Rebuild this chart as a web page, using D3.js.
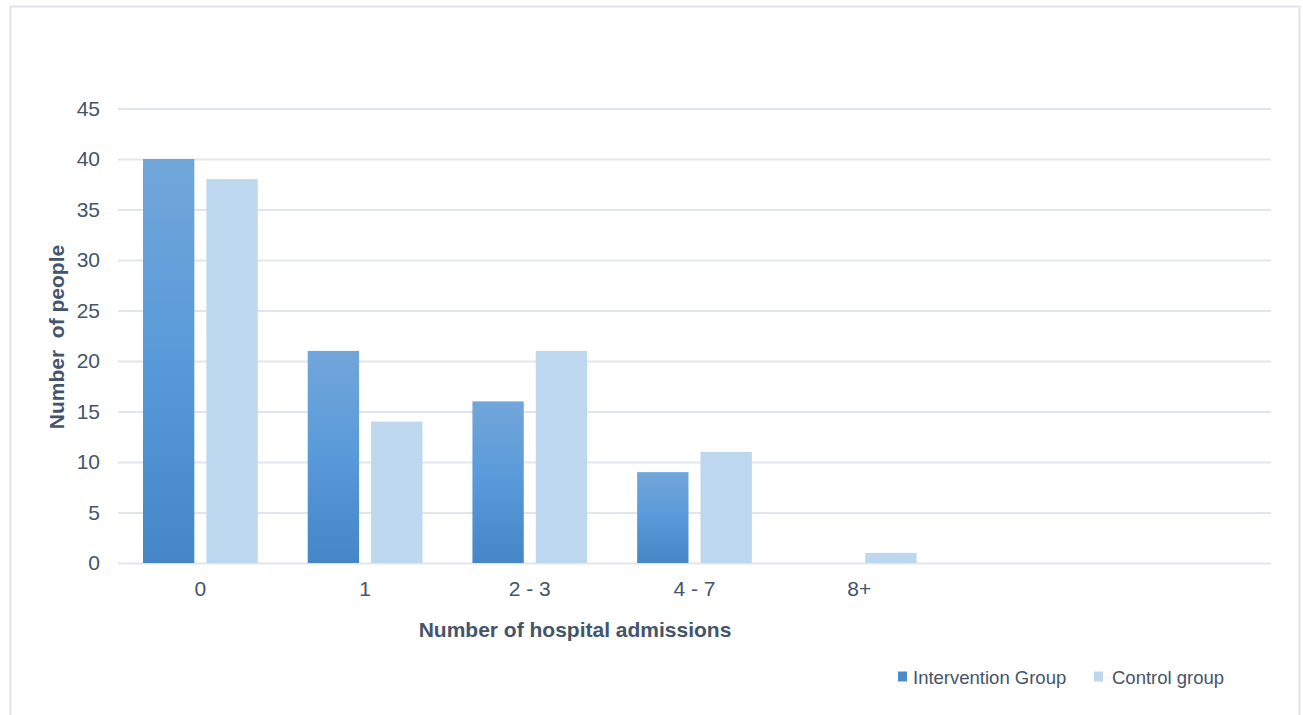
<!DOCTYPE html>
<html><head><meta charset="utf-8">
<script src="https://cdn.jsdelivr.net/npm/d3@7"></script>
<style>body{margin:0;background:#fff;font-family:"Liberation Sans",Arial,sans-serif;}</style>
</head><body>
<svg id="c" width="1303" height="715"></svg>
<script>
const categories = ["0", "1", "2 - 3", "4 - 7", "8+", "", " "];
const interventionValues = [40, 21, 16, 9, null, null, null];
const controlValues = [38, 14, 21, 11, 1, null, null];
const seriesNames = ["Intervention Group", "Control group"];
const yTicks = [0, 5, 10, 15, 20, 25, 30, 35, 40, 45];

const svg = d3.select("#c");
const textColor = "#44546a";
const gridColor = "#e1e5ec";
const fontFam = "Liberation Sans, Arial, sans-serif";

// outer border
svg.append("rect").attr("x", 10.5).attr("y", 6.5).attr("width", 1289).attr("height", 720)
  .attr("fill", "#fff").attr("stroke", "#e0e4ea").attr("stroke-width", 2);

const x = d3.scaleBand().domain(categories).range([118, 1271]).paddingInner(0).paddingOuter(0);
const y = d3.scaleLinear().domain([0, 45]).range([563, 108.5]);
const sub = d3.scaleBand().domain([0, 1]).range([25, x.bandwidth() - 25]).paddingInner(0.19);

const defs = svg.append("defs");
const grad = defs.append("linearGradient").attr("id", "gI").attr("x1", 0).attr("y1", 0).attr("x2", 0).attr("y2", 1);
grad.append("stop").attr("offset", "0%").attr("stop-color", "#72a6da");
grad.append("stop").attr("offset", "50%").attr("stop-color", "#589ad9");
grad.append("stop").attr("offset", "100%").attr("stop-color", "#4587c6");

// gridlines
const yAxis = d3.axisLeft(y).tickValues(yTicks).tickSize(-(1271 - 118)).tickPadding(18).tickFormat(d3.format("d"));
const gy = svg.append("g").attr("transform", "translate(118,0)").call(yAxis);
gy.select(".domain").remove();
gy.selectAll(".tick line").attr("stroke", gridColor).attr("stroke-width", 2);
gy.selectAll(".tick text").attr("fill", textColor).style("font-size", "21px").style("font-family", fontFam);

// bars
const series = [interventionValues, controlValues];
const fills = ["url(#gI)", "#bdd7ee"];
series.forEach((vals, si) => {
  svg.append("g").selectAll("rect")
    .data(categories.map((c, i) => ({c, v: vals[i]})).filter(d => d.v != null))
    .join("rect")
    .attr("x", d => x(d.c) + sub(si))
    .attr("width", sub.bandwidth())
    .attr("y", d => y(d.v))
    .attr("height", d => y(0) - y(d.v))
    .attr("fill", fills[si]);
});

// x axis
const xAxis = d3.axisBottom(x).tickSize(0).tickPadding(18);
const gx = svg.append("g").attr("transform", "translate(0,563)").call(xAxis);
gx.select(".domain").remove();
gx.selectAll(".tick text").attr("fill", textColor).style("font-size", "21px").style("font-family", fontFam);

// axis titles
svg.append("text").attr("x", 575).attr("y", 637).attr("text-anchor", "middle")
  .attr("fill", textColor).style("font-size", "21px").style("font-weight", "bold").style("font-family", fontFam)
  .text("Number of hospital admissions");
svg.append("text").attr("transform", "translate(64,337) rotate(-90)").attr("text-anchor", "middle")
  .attr("fill", textColor).style("font-size", "21px").style("font-weight", "bold").style("font-family", fontFam)
  .style("white-space", "pre")
  .text("Number  of people");

// legend
const legendX = [898, 1094];
const legendFills = ["#4a8ccb", "#bdd7ee"];
seriesNames.forEach((n, i) => {
  svg.append("rect").attr("x", legendX[i]).attr("y", 671.5).attr("width", 9).attr("height", 10).attr("fill", legendFills[i]);
  svg.append("text").attr("x", legendX[i] + (i === 0 ? 15 : 18)).attr("y", 683.5)
    .attr("fill", textColor).style("font-size", "18.5px").style("font-family", fontFam).text(n);
});
</script>
</body></html>
